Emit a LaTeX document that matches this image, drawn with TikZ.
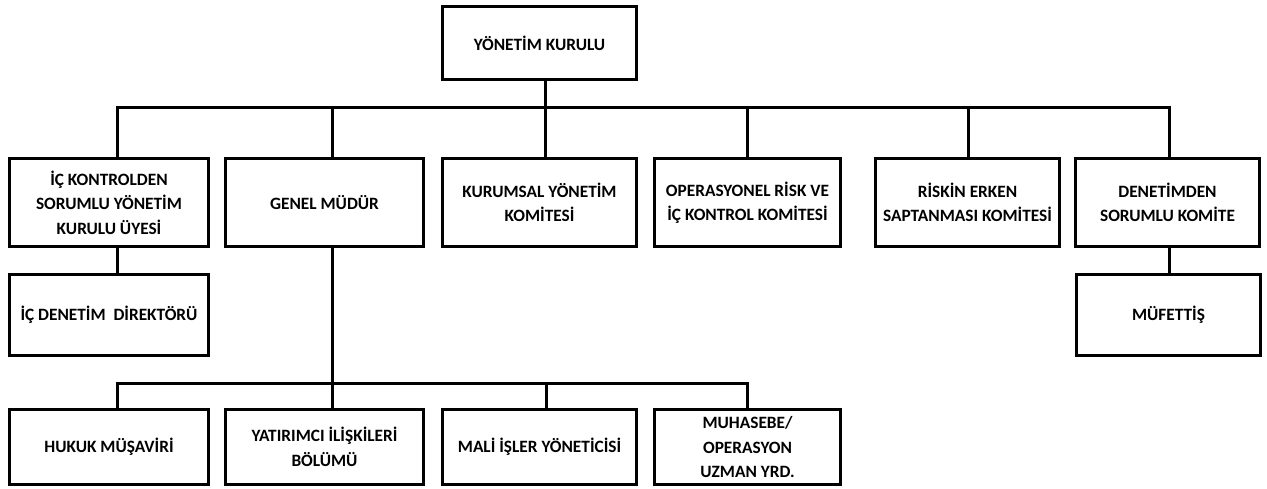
\documentclass[tikz,border=0pt]{standalone}
\usepackage{fontspec}
\setmainfont{Carlito}
\begin{document}
\begin{tikzpicture}[x=1pt,y=-1pt,
  box/.style={draw=black, line width=3pt, inner sep=0pt, outer sep=0pt, align=center,
    font=\fontsize{17.3}{24.5}\selectfont\bfseries, fill=white},
  lvl1/.style={box, minimum height=88pt},
  lvl2/.style={box, minimum height=81pt},
  lvl3/.style={box, minimum height=75pt},
  conn/.style={draw=black, line width=3pt, line cap=rect}]
\useasboundingbox[fill=white] (0,0) rectangle (1267,488);
% top
\node[box, minimum width=194pt, minimum height=73pt] (top) at (539.5,43) {YÖNETİM KURULU};
% level 1
\node[lvl1, minimum width=199pt] (b1) at (109,202.5) {İÇ KONTROLDEN\\SORUMLU YÖNETİM\\KURULU ÜYESİ};
\node[lvl1, minimum width=198pt] (b2) at (324.5,202.5) {GENEL MÜDÜR};
\node[lvl1, minimum width=194pt] (b3) at (539.5,202.5) {KURUMSAL YÖNETİM\\KOMİTESİ};
\node[lvl1, minimum width=186pt] (b4) at (747.5,202.5) {OPERASYONEL RİSK VE\\İÇ KONTROL KOMİTESİ};
\node[lvl1, minimum width=184pt] (b5) at (967.5,202.5) {RİSKİN ERKEN\\SAPTANMASI KOMİTESİ};
\node[lvl1, minimum width=184pt] (b6) at (1167.5,202.5) {DENETİMDEN\\SORUMLU KOMİTE};
% level 2
\node[lvl2, minimum width=199pt] (c1) at (109,315) {İÇ DENETİM\ \ DİREKTÖRÜ};
\node[lvl2, minimum width=184pt] (m1) at (1168.5,315) {MÜFETTİŞ};
% level 3
\node[lvl3, minimum width=199pt] (l1) at (109,447) {HUKUK MÜŞAVİRİ};
\node[lvl3, minimum width=198pt] (l2) at (324.5,447) {YATIRIMCI İLİŞKİLERİ\\BÖLÜMÜ};
\node[lvl3, minimum width=194pt] (l3) at (539.5,447) {MALİ İŞLER YÖNETİCİSİ};
\node[lvl3, minimum width=186pt] (l4) at (747.5,447) {MUHASEBE/\\OPERASYON\\UZMAN YRD.};
% junction coordinates
\coordinate (t0) at (545,107);
\coordinate (j1) at (117,107);
\coordinate (j2) at (332,107);
\coordinate (j3) at (545,107);
\coordinate (j4) at (747,107);
\coordinate (j5) at (968,107);
\coordinate (j6) at (1169,107);
\coordinate (g0) at (332,383);
\coordinate (k1) at (117,383);
\coordinate (k3) at (546,383);
\coordinate (k4) at (747,383);
% connectors
\draw[conn] (t0 |- top.south) -- (t0);
\draw[conn] (j1) -- (j6);
\draw[conn] (j1) -- (j1 |- b1.north);
\draw[conn] (j2) -- (j2 |- b2.north);
\draw[conn] (j3) -- (j3 |- b3.north);
\draw[conn] (j4) -- (j4 |- b4.north);
\draw[conn] (j5) -- (j5 |- b5.north);
\draw[conn] (j6) -- (j6 |- b6.north);
\draw[conn] (j1 |- b1.south) -- (j1 |- c1.north);
\draw[conn] (j6 |- b6.south) -- (j6 |- m1.north);
\draw[conn] (j2 |- b2.south) -- (g0);
\draw[conn] (k1) -- (k4);
\draw[conn] (k1) -- (k1 |- l1.north);
\draw[conn] (g0) -- (g0 |- l2.north);
\draw[conn] (k3) -- (k3 |- l3.north);
\draw[conn] (k4) -- (k4 |- l4.north);
\end{tikzpicture}
\end{document}
